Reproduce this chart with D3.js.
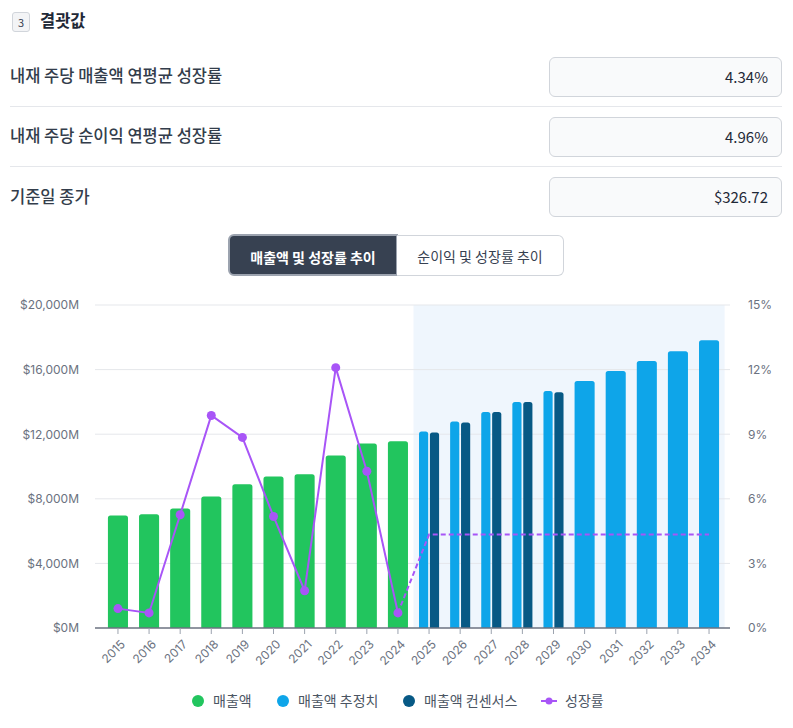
<!DOCTYPE html>
<html>
<head>
<meta charset="utf-8">
<script src="https://cdn.jsdelivr.net/npm/d3@7"></script>
<style>
  body { margin: 0; background: #fff; font-family: "Noto Sans CJK KR", "Noto Sans", sans-serif; }
  #page { position: relative; width: 793px; height: 728px; overflow: hidden; }
  .abs { position: absolute; }
  .badge { left: 12px; top: 12px; width: 16px; height: 18px; border: 1px solid #d1d5db; border-radius: 3px;
    background: #f3f4f6; font-size: 11px; color: #374151; text-align: center; line-height: 18px; }
  .title { left: 40px; top: 8px; font-size: 16.5px; font-weight: 700; color: #1f2937; }
  .label { left: 10px; font-size: 16.5px; font-weight: 500; color: #333d4b; }
  .box { left: 549px; width: 231px; height: 38px; border: 1px solid #d1d5db; border-radius: 6px; background: #f9fafb;
    box-sizing: content-box; font-size: 15px; color: #1f2937; text-align: right; line-height: 38px; }
  .box span { padding-right: 13px; }
  .sep { left: 10px; width: 772px; height: 1px; background: #e5e7eb; }
  .btn { top: 234px; height: 42px; font-size: 14px; text-align: center; line-height: 42px; box-sizing: border-box; }
  .btn.on { left: 228px; width: 170px; background: #374151; color: #fff; font-weight: 700; border: 2px solid #9ca3af;
    border-radius: 6px 0 0 6px; }
  .btn.off { left: 397px; width: 167px; background: #fff; color: #374151; border: 1px solid #d1d5db; border-left: none;
    border-radius: 0 6px 6px 0; top: 235px; height: 41px; line-height: 40px; }
  svg { position: absolute; left: 0; top: 0; }
</style>
</head>
<body>
<div id="page">
  <div class="abs badge">3</div>
  <div class="abs title">결괏값</div>

  <div class="abs label" style="top:63px">내재 주당 매출액 연평균 성장률</div>
  <div class="abs box" style="top:57px"><span>4.34%</span></div>
  <div class="abs sep" style="top:106px"></div>

  <div class="abs label" style="top:123px">내재 주당 순이익 연평균 성장률</div>
  <div class="abs box" style="top:117px"><span>4.96%</span></div>
  <div class="abs sep" style="top:166px"></div>

  <div class="abs label" style="top:184px">기준일 종가</div>
  <div class="abs box" style="top:177px"><span>$326.72</span></div>

  <div class="abs btn on">매출액 및 성장률 추이</div>
  <div class="abs btn off">순이익 및 성장률 추이</div>

  <svg id="chart" width="793" height="728"></svg>
</div>
<script>
// data
const years = ['2015','2016','2017','2018','2019','2020','2021','2022','2023','2024',
               '2025','2026','2027','2028','2029','2030','2031','2032','2033','2034'];
const revenue   = [6960, 7050, 7400, 8140, 8900, 9380, 9520, 10680, 11420, 11560,
                   null, null, null, null, null, null, null, null, null, null];
const estimate  = [null, null, null, null, null, null, null, null, null, null,
                   12160, 12780, 13380, 14000, 14680, 15290, 15910, 16530, 17130, 17810];
const consensus = [null, null, null, null, null, null, null, null, null, null,
                   12100, 12720, 13380, 14000, 14600, null, null, null, null, null];
const growth    = [0.90, 0.70, 5.26, 9.87, 8.85, 5.18, 1.73, 12.09, 7.28, 0.70,
                   null, null, null, null, null, null, null, null, null, null];
const growthEst = [null, null, null, null, null, null, null, null, null, 0.70,
                   4.34, 4.34, 4.34, 4.34, 4.34, 4.34, 4.34, 4.34, 4.34, 4.34];
const leftTicks  = [0, 4000, 8000, 12000, 16000, 20000];
const rightTicks = [0, 3, 6, 9, 12, 15];

const legendItems = [
  {name: '매출액', color: '#22c55e', type: 'dot'},
  {name: '매출액 추정치', color: '#0ea5e9', type: 'dot'},
  {name: '매출액 컨센서스', color: '#075985', type: 'dot'},
  {name: '성장률', color: '#a855f7', type: 'line'}
];

const colors = {rev: '#22c55e', est: '#0ea5e9', cons: '#075985', growth: '#a855f7'};

const svg = d3.select('#chart');
const plot = {left: 95, right: 730, top: 305, bottom: 628};

const x = d3.scaleBand().domain(years).range([102.4, 724.6]).paddingInner(0.355).paddingOuter(0.1775);
const yL = d3.scaleLinear().domain([0, 20000]).range([plot.bottom, plot.top]);
const yR = d3.scaleLinear().domain([0, 15]).range([plot.bottom, plot.top]);
const sub = d3.scaleBand().domain(['est', 'cons']).range([0, x.bandwidth()]).paddingInner(0.16);

// forecast shading
const shadeX = x('2025') - x.step() * x.paddingInner() / 2;
svg.append('rect')
  .attr('x', shadeX).attr('y', plot.top)
  .attr('width', x.range()[1] - shadeX).attr('height', plot.bottom - plot.top)
  .attr('fill', '#eff6fd');

// grid
svg.append('g').selectAll('line').data(leftTicks.slice(1)).join('line')
  .attr('x1', plot.left).attr('x2', plot.right)
  .attr('y1', d => yL(d)).attr('y2', d => yL(d))
  .attr('stroke', '#e5e7eb').attr('stroke-width', 1);

// left axis
const fmt = d3.format(',');
const axL = svg.append('g').attr('transform', 'translate(' + plot.left + ',0)')
  .call(d3.axisLeft(yL).tickValues(leftTicks).tickSize(0).tickPadding(16).tickFormat(d => '$' + fmt(d) + 'M'));
axL.select('.domain').remove();
axL.selectAll('text').attr('fill', '#6b7280').style('font-size', '12px').style('font-family', 'Inter, "Noto Sans", sans-serif');

// right axis
const axR = svg.append('g').attr('transform', 'translate(' + plot.right + ',0)')
  .call(d3.axisRight(yR).tickValues(rightTicks).tickSize(0).tickPadding(18).tickFormat(d => d + '%'));
axR.select('.domain').remove();
axR.selectAll('text').attr('fill', '#6b7280').style('font-size', '12px').style('font-family', 'Inter, "Noto Sans", sans-serif');

// bar with rounded top
function barPath(x0, w, v) {
  const y0 = yL(0), y1 = yL(v), r = Math.min(2.5, w / 2);
  return 'M' + x0 + ',' + y0 + 'V' + (y1 + r) + 'Q' + x0 + ',' + y1 + ' ' + (x0 + r) + ',' + y1 +
    'H' + (x0 + w - r) + 'Q' + (x0 + w) + ',' + y1 + ' ' + (x0 + w) + ',' + (y1 + r) + 'V' + y0 + 'Z';
}

const bars = svg.append('g');
years.forEach((yr, i) => {
  if (revenue[i] != null) {
    bars.append('path').attr('d', barPath(x(yr), x.bandwidth(), revenue[i])).attr('fill', colors.rev);
  }
  if (estimate[i] != null && consensus[i] != null) {
    bars.append('path').attr('d', barPath(x(yr) + sub('est'), sub.bandwidth(), estimate[i])).attr('fill', colors.est);
    bars.append('path').attr('d', barPath(x(yr) + sub('cons'), sub.bandwidth(), consensus[i])).attr('fill', colors.cons);
  } else if (estimate[i] != null) {
    bars.append('path').attr('d', barPath(x(yr), x.bandwidth(), estimate[i])).attr('fill', colors.est);
  }
});

// x axis
const axB = svg.append('g').attr('transform', 'translate(0,' + plot.bottom + ')');
axB.append('line').attr('x1', plot.left).attr('x2', plot.right).attr('stroke', '#6b7280').attr('stroke-width', 1.5);
axB.selectAll('.tk').data(years).join('line').attr('class', 'tk')
  .attr('x1', d => x(d) + x.bandwidth() / 2).attr('x2', d => x(d) + x.bandwidth() / 2)
  .attr('y1', 0).attr('y2', 6).attr('stroke', '#9ca3af');
axB.selectAll('text').data(years).join('text')
  .attr('transform', d => 'translate(' + (x(d) + x.bandwidth() / 2 + 5) + ',14) rotate(-45)')
  .attr('text-anchor', 'end')
  .attr('dy', '0.35em')
  .attr('fill', '#6b7280')
  .style('font-size', '12px')
  .style('font-family', 'Inter, "Noto Sans", sans-serif')
  .text(d => d);

// growth lines
const cx = d => x(d) + x.bandwidth() / 2;
const line = d3.line().defined(d => d.v != null).x(d => cx(d.yr)).y(d => yR(d.v));
const gAct = years.map((yr, i) => ({yr, v: growth[i]}));
const gEst = years.map((yr, i) => ({yr, v: growthEst[i]}));

svg.append('path').datum(gEst).attr('d', line)
  .attr('fill', 'none').attr('stroke', colors.growth).attr('stroke-width', 2).attr('stroke-dasharray', '5,3');
svg.append('path').datum(gAct).attr('d', line)
  .attr('fill', 'none').attr('stroke', colors.growth).attr('stroke-width', 2);
svg.append('g').selectAll('circle').data(gAct.filter(d => d.v != null)).join('circle')
  .attr('cx', d => cx(d.yr)).attr('cy', d => yR(d.v)).attr('r', 4.5).attr('fill', colors.growth);

// legend
const legX = [198, 283, 409, 549];
const leg = svg.append('g').attr('transform', 'translate(0,701)');
legendItems.forEach((it, i) => {
  const g = leg.append('g').attr('transform', 'translate(' + legX[i] + ',0)');
  if (it.type === 'dot') {
    g.append('circle').attr('r', 6).attr('fill', it.color);
  } else {
    g.append('line').attr('x1', -8).attr('x2', 8).attr('stroke', it.color).attr('stroke-width', 2);
    g.append('circle').attr('r', 3.5).attr('fill', it.color);
  }
  g.append('text').attr('x', it.type === 'dot' ? 15 : 16).attr('dy', '0.35em')
    .attr('fill', '#4b5563').style('font-size', '14px').text(it.name);
});
</script>
</body>
</html>
